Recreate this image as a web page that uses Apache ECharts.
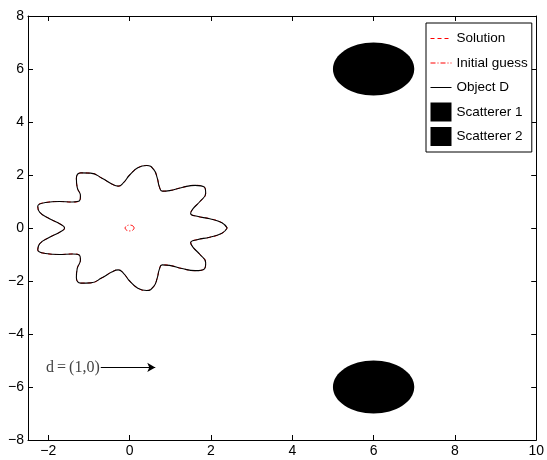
<!DOCTYPE html>
<html><head><meta charset="utf-8">
<script src="https://cdn.jsdelivr.net/npm/echarts@6/dist/echarts.min.js"></script>
<style>html,body{margin:0;padding:0;background:#fff}#c{width:547px;height:460px}</style>
</head><body><div id="c"></div>
<script>
// Object D / Solution boundary (every 5 degrees)
const objectX = [2.40,2.27,1.97,1.66,1.50,1.56,1.73,1.87,1.84,1.61,1.29,0.98,0.80,0.73,0.68,0.59,0.42,0.20,0.00,-0.15,-0.28,-0.44,-0.68,-0.96,-1.20,-1.31,-1.29,-1.21,-1.23,-1.41,-1.73,-2.07,-2.26,-2.21,-1.97,-1.71,-1.60,-1.71,-1.97,-2.21,-2.26,-2.07,-1.73,-1.41,-1.23,-1.21,-1.29,-1.31,-1.20,-0.96,-0.68,-0.44,-0.28,-0.15,0.00,0.20,0.42,0.59,0.68,0.73,0.80,0.98,1.29,1.61,1.84,1.87,1.73,1.56,1.50,1.66,1.97,2.27,2.40];
const objectY = [0.00,0.20,0.35,0.44,0.55,0.73,1.00,1.31,1.54,1.61,1.53,1.41,1.39,1.56,1.88,2.21,2.36,2.27,2.00,1.71,1.58,1.66,1.88,2.07,2.08,1.87,1.53,1.21,1.03,0.98,1.00,0.96,0.82,0.59,0.35,0.15,0.00,-0.15,-0.35,-0.59,-0.82,-0.96,-1.00,-0.98,-1.03,-1.21,-1.53,-1.87,-2.08,-2.07,-1.88,-1.66,-1.58,-1.71,-2.00,-2.27,-2.36,-2.21,-1.88,-1.56,-1.39,-1.41,-1.53,-1.61,-1.54,-1.31,-1.00,-0.73,-0.55,-0.44,-0.35,-0.20,0.00];
const solutionX = objectX;
const solutionY = objectY;
// Initial guess: small circle at the origin
const guessX = [0.11,0.095,0.055,0,-0.055,-0.095,-0.11,-0.095,-0.055,0,0.055,0.095,0.11];
const guessY = [0,0.055,0.095,0.11,0.095,0.055,0,-0.055,-0.095,-0.11,-0.095,-0.055,0];
// Scatterers: centre x, centre y, radius
const scatNames = ['Scatterer 1','Scatterer 2'];
const scatCx = [6, 6];
const scatCy = [6, -6];
const scatR = [1, 1];
// Incident direction arrow
const arrowStart = [-0.71, -5.26];
const arrowEnd = [0.63, -5.26];
const xMin = -2.5, xMax = 10;
const yMin = -8, yMax = 8, yStep = 2;

const zip = (a, b) => a.map((v, i) => [v, b[i]]);
const fmt = v => v < 0 ? '\u2212' + Math.abs(v) : String(v);
const font = 'Liberation Sans, Arial, sans-serif';
const serif = 'Liberation Serif, Times New Roman, serif';

const axisCommon = {
  axisLine: {show: true, onZero: false, lineStyle: {color: '#000', width: 1}},
  axisTick: {show: true, inside: true, length: 5, lineStyle: {color: '#000', width: 1}},
  splitLine: {show: false}
};

const chart = echarts.init(document.getElementById('c'), null, {renderer: 'canvas'});
const ellipseRender = (params, api) => {
  const c = api.coord([api.value(0), api.value(1)]);
  const s = api.size([api.value(2), api.value(2)]);
  return {type: 'ellipse', shape: {cx: c[0], cy: c[1], rx: s[0], ry: s[1]}, style: {fill: '#000'}};
};
const hiddenSymbol = {opacity: 0};

chart.setOption({
  animation: false,
  backgroundColor: '#fff',
  grid: {left: 28, top: 16, right: 8, bottom: 20},
  xAxis: [
    Object.assign({type: 'value', min: xMin, max: xMax, splitNumber: 6, position: 'bottom',
      axisLabel: {color: '#000', fontSize: 14, fontFamily: font, margin: 4,
        formatter: v => (Math.abs(v % 2) < 1e-9 ? fmt(v) : '')}}, axisCommon),
    Object.assign({type: 'value', min: xMin, max: xMax, splitNumber: 6, position: 'top',
      axisLabel: {show: false}}, axisCommon)
  ],
  yAxis: [
    Object.assign({type: 'value', min: yMin, max: yMax, interval: yStep, position: 'left',
      axisLabel: {color: '#000', fontSize: 14, fontFamily: font, margin: 4, formatter: fmt}}, axisCommon),
    Object.assign({type: 'value', min: yMin, max: yMax, interval: yStep, position: 'right',
      axisLabel: {show: false}}, axisCommon)
  ],
  legend: {
    orient: 'vertical', left: 426, top: 23, padding: [6, 4, 6, 4], itemGap: 5.5,
    itemWidth: 21, itemHeight: 19, backgroundColor: '#fff', borderColor: '#000', borderWidth: 1,
    lineStyle: {width: 1},
    textStyle: {fontSize: 13.5, color: '#000', fontFamily: font, lineHeight: 19},
    data: [{name: 'Solution', itemStyle: hiddenSymbol}, {name: 'Initial guess', itemStyle: hiddenSymbol},
      {name: 'Object D', itemStyle: hiddenSymbol},
      {name: scatNames[0], icon: 'rect'}, {name: scatNames[1], icon: 'rect'}]
  },
  series: [
    {name: 'Solution', type: 'line', data: zip(solutionX, solutionY), smooth: 0.5, symbol: 'none',
      lineStyle: {color: '#ff0000', width: 1, type: [4, 3]}, itemStyle: {color: '#ff0000', opacity: 0}},
    {name: 'Initial guess', type: 'line', data: zip(guessX, guessY), smooth: 0.5, symbol: 'none',
      lineStyle: {color: '#ff0000', width: 1, type: [5, 2, 1, 2]}, itemStyle: {color: '#ff0000', opacity: 0}},
    {name: 'Object D', type: 'line', data: zip(objectX, objectY), smooth: 0.5, symbol: 'none',
      lineStyle: {color: '#000', width: 1.1}, itemStyle: {color: '#000', opacity: 0}},
    {name: scatNames[0], type: 'custom', data: [[scatCx[0], scatCy[0], scatR[0]]],
      renderItem: ellipseRender, itemStyle: {color: '#000'}},
    {name: scatNames[1], type: 'custom', data: [[scatCx[1], scatCy[1], scatR[1]]],
      renderItem: ellipseRender, itemStyle: {color: '#000'}},
    {name: 'arrow', type: 'line', data: [], silent: true,
      markLine: {silent: true, animation: false, symbol: ['none', 'arrow'], symbolSize: [7, 8], precision: 2,
        lineStyle: {color: '#000', width: 1, type: 'solid'},
        label: {show: true, position: 'start', distance: 1,
          formatter: '{a|d}{b|=}{a|(1,0)}',
          rich: {
            a: {color: '#444', fontSize: 16, fontFamily: serif},
            b: {color: '#444', fontSize: 16, fontFamily: serif, padding: [0, 3, 0, 3]}
          }},
        data: [[{coord: arrowStart}, {coord: arrowEnd}]]}}
  ]
});
</script></body></html>
